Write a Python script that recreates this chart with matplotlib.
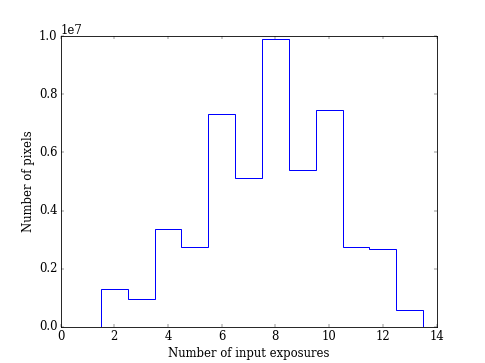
import numpy as np
import matplotlib
matplotlib.use("Agg")
import matplotlib.pyplot as plt

plt.style.use("classic")
plt.rcParams["font.family"] = "serif"
plt.rcParams["font.size"] = 14

# Number of input exposures per pixel and the pixel counts
exposures = [1, 2, 3, 4, 5, 6, 7, 8, 9, 10, 11, 12, 13]
npix = [0, 1.29e6, 0.95e6, 3.37e6, 2.75e6, 7.32e6, 5.13e6,
        9.92e6, 5.38e6, 7.47e6, 2.76e6, 2.68e6, 0.56e6]
edges = np.arange(0.5, 14.0, 1.0)

fig = plt.figure(figsize=(485 / 60.0, 363 / 60.0), dpi=60)
ax = fig.add_subplot(111)

ax.hist(exposures, bins=edges, weights=npix, histtype="step", color="b",
        linewidth=1.2)

ax.set_xlim(0, 14)
ax.set_ylim(0, 1.0e7)
ax.set_xlabel("Number of input exposures")
ax.set_ylabel("Number of pixels")

fig.savefig("out.png", dpi=60)
